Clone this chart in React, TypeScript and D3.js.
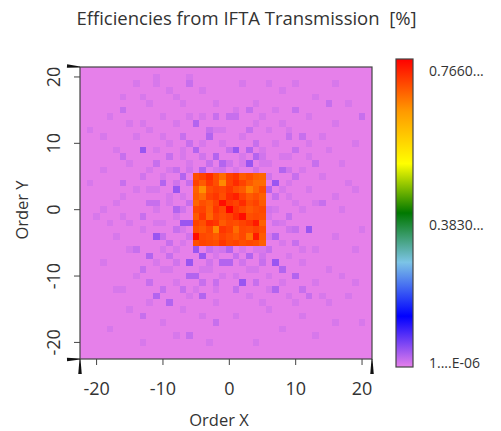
import React from 'react';
import * as d3 from 'd3';

// Diffraction orders along each axis (cell centres)
const ordersX = [-22, -21, -20, -19, -18, -17, -16, -15, -14, -13, -12, -11, -10, -9, -8, -7, -6, -5, -4, -3, -2, -1, 0, 1, 2, 3, 4, 5, 6, 7, 8, 9, 10, 11, 12, 13, 14, 15, 16, 17, 18, 19, 20, 21];
const ordersY = [21, 20, 19, 18, 17, 16, 15, 14, 13, 12, 11, 10, 9, 8, 7, 6, 5, 4, 3, 2, 1, 0, -1, -2, -3, -4, -5, -6, -7, -8, -9, -10, -11, -12, -13, -14, -15, -16, -17, -18, -19, -20, -21, -22];

// Efficiency of orders outside the signal window [%]
const baseEfficiency = 0.000001;

// Signal window orders and their efficiencies [%] (rows: order Y 5 .. -5, cols: order X -5 .. 5)
const signalOrders = [-5, -4, -3, -2, -1, 0, 1, 2, 3, 4, 5];
const signalRowsY = [5, 4, 3, 2, 1, 0, -1, -2, -3, -4, -5];
const signalEfficiency = [
  [0.70, 0.71, 0.73, 0.70, 0.675, 0.71, 0.72, 0.69, 0.70, 0.685, 0.68],
  [0.71, 0.69, 0.72, 0.70, 0.65, 0.71, 0.73, 0.71, 0.69, 0.675, 0.675],
  [0.685, 0.645, 0.70, 0.71, 0.705, 0.72, 0.70, 0.69, 0.655, 0.68, 0.70],
  [0.69, 0.675, 0.71, 0.72, 0.70, 0.73, 0.74, 0.71, 0.69, 0.70, 0.685],
  [0.68, 0.70, 0.69, 0.71, 0.755, 0.72, 0.71, 0.73, 0.70, 0.71, 0.69],
  [0.705, 0.71, 0.685, 0.72, 0.705, 0.766, 0.72, 0.705, 0.69, 0.70, 0.705],
  [0.69, 0.72, 0.68, 0.71, 0.70, 0.71, 0.73, 0.755, 0.70, 0.705, 0.70],
  [0.71, 0.70, 0.73, 0.72, 0.69, 0.705, 0.70, 0.71, 0.72, 0.745, 0.685],
  [0.70, 0.69, 0.705, 0.65, 0.72, 0.71, 0.675, 0.705, 0.70, 0.71, 0.70],
  [0.755, 0.705, 0.70, 0.69, 0.71, 0.70, 0.69, 0.705, 0.67, 0.745, 0.69],
  [0.70, 0.71, 0.705, 0.70, 0.72, 0.705, 0.71, 0.70, 0.705, 0.70, 0.685],
];

// Stray light in the noise region: [order X, order Y, efficiency %]
const noiseCells: [number, number, number][] = [
  // upper left
  [-11, 20, 0.008], [-11, 19, 0.008], [-6, 20, 0.008], [-6, 19, 0.017], [-8, 17, 0.008], [-16, 17, 0.008], [-13, 17, 0.008],
  [-16, 15, 0.017], [-15, 13, 0.008], [-21, 12, 0.008], [-5, 13, 0.028], [-2, 14, 0.017], [-3, 12, 0.017], [-3, 11, 0.028],
  [-7, 11, 0.017], [-6, 10, 0.017], [-13, 9, 0.042], [-16, 8, 0.017], [-5, 9, 0.028], [-2, 8, 0.028], [-9, 8, 0.017],
  [-11, 7, 0.017], [-8, 6, 0.017], [-4, 6, 0.028], [-3, 7, 0.017], [-1, 7, 0.028], [-10, 4, 0.028], [-8, 3, 0.042],
  [-16, 4, 0.017], [-21, 4, 0.008], [-7, 5, 0.028], [-6, 4, 0.017], [-12, 1, 0.017], [-17, 1, 0.008], [-8, 0, 0.028],
  [-6, 1, 0.017], [-11, 1, 0.017],
  [-14, 19, 0.008], [-9, 18, 0.008], [-4, 18, 0.008], [-12, 16, 0.008], [-7, 16, 0.008], [-2, 16, 0.008], [-18, 14, 0.008],
  [-10, 14, 0.008], [-6, 14, 0.008], [-13, 13, 0.008], [-8, 13, 0.008], [-1, 12, 0.008], [-19, 11, 0.008], [-14, 11, 0.008],
  [-9, 10, 0.008], [-4, 10, 0.008], [-1, 10, 0.008], [-17, 9, 0.008], [-11, 9, 0.008], [-7, 9, 0.008], [-15, 7, 0.008],
  [-6, 7, 0.008], [-19, 6, 0.008], [-12, 6, 0.008], [-10, 5, 0.008], [-14, 3, 0.008], [-11, 3, 0.008], [-16, 2, 0.008],
  [-9, 1, 0.008], [-19, 0, 0.008], [-11, 0, 0.008], [-7, 2, 0.008], [-2, 6, 0.008],
  [-6, 6, 0.012], [-1, 6, 0.012], [-8, 4, 0.012], [-9, 6, 0.008], [-7, 8, 0.008], [-4, 8, 0.012], [-9, 2, 0.008],
  [-12, 3, 0.008], [-13, 5, 0.012], [-2, 12, 0.008], [-4, 14, 0.008], [-10, 11, 0.008], [-12, 12, 0.008], [-7, 0, 0.012],
  // upper right
  [1, 9, 0.042], [3, 7, 0.042], [4, 8, 0.028], [3, 9, 0.028], [7, 4, 0.042], [8, 6, 0.028], [10, 5, 0.017], [13, 7, 0.017],
  [11, 11, 0.017], [10, 9, 0.017], [9, 11, 0.017], [3, 12, 0.017], [3, 15, 0.017], [1, 15, 0.008], [0, 14, 0.017],
  [1, 14, 0.017], [5, 14, 0.008], [7, 15, 0.008], [10, 15, 0.017], [15, 16, 0.017], [20, 14, 0.017], [4, 10, 0.017],
  [0, 9, 0.017], [6, 3, 0.028], [7, 2, 0.017], [14, 1, 0.017], [19, 3, 0.008], [12, 8, 0.008], [16, 19, 0.008],
  [10, 19, 0.008], [6, 19, 0.008],
  [2, 19, 0.008], [8, 18, 0.008], [13, 17, 0.008], [18, 16, 0.008], [4, 16, 0.008], [12, 14, 0.008], [16, 13, 0.008],
  [6, 12, 0.008], [9, 12, 0.008], [14, 11, 0.008], [19, 10, 0.008], [2, 11, 0.008], [7, 10, 0.008], [12, 10, 0.008],
  [5, 9, 0.008], [15, 9, 0.008], [9, 8, 0.008], [17, 7, 0.008], [6, 7, 0.008], [11, 6, 0.008], [14, 5, 0.008],
  [18, 4, 0.008], [9, 4, 0.008], [12, 3, 0.008], [16, 2, 0.008], [9, 2, 0.008], [11, 0, 0.008], [17, 0, 0.008],
  [7, 0, 0.008], [13, 1, 0.008], [2, 7, 0.008],
  [1, 6, 0.008], [4, 6, 0.012], [5, 7, 0.008], [6, 5, 0.012], [6, 0, 0.012], [0, 7, 0.012], [2, 8, 0.008],
  [5, 8, 0.012], [8, 8, 0.008], [9, 6, 0.012], [8, 3, 0.008], [10, 1, 0.008], [4, 13, 0.008], [8, 13, 0.008],
  // lower left
  [-7, -2, 0.042], [-6, -2, 0.042], [-11, -4, 0.042], [-12, -7, 0.028], [-9, -7, 0.017], [-5, -6, 0.042], [-4, -7, 0.042],
  [-6, -8, 0.042], [-1, -8, 0.028], [-6, -10, 0.028], [-5, -10, 0.028], [-13, -1, 0.017], [-14, -6, 0.017],
  [-13, -9, 0.017], [-12, -11, 0.017], [-11, -13, 0.028], [-9, -14, 0.028], [-10, -12, 0.017], [-7, -12, 0.017],
  [-4, -13, 0.028], [-4, -11, 0.017], [-2, -11, 0.017], [-2, -17, 0.017], [-6, -19, 0.017], [-20, -1, 0.008],
  [-16, -1, 0.008], [-18, -2, 0.008], [-16, -12, 0.008], [-13, -16, 0.017], [-10, -4, 0.017], [-8, -3, 0.017],
  [-9, -5, 0.017],
  [-15, -2, 0.008], [-10, -2, 0.008], [-17, -4, 0.008], [-13, -3, 0.008], [-7, -5, 0.008], [-15, -6, 0.008],
  [-8, -6, 0.008], [-11, -8, 0.008], [-19, -8, 0.008], [-3, -9, 0.008], [-9, -9, 0.008], [-14, -10, 0.008],
  [-8, -11, 0.008], [-1, -10, 0.008], [-17, -12, 0.008], [-6, -13, 0.008], [-12, -14, 0.008], [-2, -14, 0.008],
  [-15, -15, 0.008], [-7, -15, 0.008], [-10, -17, 0.008], [-4, -16, 0.008], [-18, -18, 0.008], [-8, -19, 0.008],
  [-13, -20, 0.008], [-3, -20, 0.008], [-3, -6, 0.017], [-2, -7, 0.008],
  [-6, -4, 0.012], [-7, -3, 0.008], [-2, -6, 0.008], [-1, -6, 0.012], [-8, -1, 0.008], [-10, -6, 0.008],
  [-11, -2, 0.008], [-3, -8, 0.012], [-4, -9, 0.008], [-2, -12, 0.008], [-5, -12, 0.008], [-8, -8, 0.012],
  [-10, -9, 0.008],
  // lower right
  [0, -6, 0.028], [3, -7, 0.028], [7, -8, 0.042], [7, -4, 0.028], [12, -3, 0.042], [2, -11, 0.042], [7, -12, 0.028],
  [10, -10, 0.028], [8, -9, 0.028], [11, -12, 0.017], [10, -5, 0.017], [0, -8, 0.028], [1, -7, 0.017], [5, -8, 0.017],
  [4, -11, 0.017], [12, -13, 0.017], [6, -1, 0.008], [9, -1, 0.017], [10, -3, 0.017], [14, -13, 0.008],
  [16, -17, 0.008], [20, -17, 0.008], [19, -11, 0.008], [20, -3, 0.008], [5, -14, 0.008], [1, -12, 0.017],
  [2, -6, 0.008], [5, -6, 0.008], [9, -7, 0.008], [13, -6, 0.008], [16, -4, 0.008], [3, -9, 0.008], [11, -8, 0.008],
  [15, -9, 0.008], [6, -10, 0.008], [13, -11, 0.008], [17, -10, 0.008], [3, -13, 0.008], [9, -13, 0.008],
  [15, -14, 0.008], [6, -15, 0.008], [11, -16, 0.008], [1, -16, 0.008], [18, -13, 0.008], [8, -18, 0.008],
  [13, -19, 0.008], [4, -20, 0.008], [19, -6, 0.008], [6, -6, 0.017], [8, -2, 0.008],
  [7, -2, 0.012], [6, -4, 0.008], [5, -7, 0.012], [2, -8, 0.012], [4, -6, 0.008], [8, -5, 0.008], [9, -3, 0.012],
  [11, -6, 0.008], [4, -9, 0.008], [1, -10, 0.008], [6, -12, 0.008], [8, -11, 0.008], [10, -14, 0.008],
];

const axisTicks = [-20, -10, 0, 10, 20];
const maxEfficiency = 0.766;
const colorbarLabels: [number, string][] = [
  [0.766, '0.7660...'],
  [0.383, '0.3830...'],
  [0.000001, '1....E-06'],
];

const titleText = 'Efficiencies from IFTA Transmission\u00a0\u00a0[%]';

// Colour map: orchid -> blue -> sky -> green -> yellow -> orange -> red
const mapStops = [0, 0.165, 0.34, 0.5, 0.66, 0.83, 1];
const mapColors = ['#e680ea', '#0000ff', '#7cc4e6', '#007800', '#ffff00', '#ff9a00', '#ff0000'];

const W = 501;
const H = 431;
const FONT = "'Open Sans', 'Noto Sans', sans-serif";
const TEXT = '#333333';

export default function App() {
  const plot = { left: 80, right: 372, top: 67, bottom: 359 };
  const x = d3.scaleLinear().domain([-22.5, 21.5]).range([plot.left, plot.right]);
  const y = d3.scaleLinear().domain([-22.5, 21.5]).range([plot.bottom, plot.top]);

  const color = d3
    .scaleLinear<string>()
    .domain(mapStops.map((s) => s * maxEfficiency))
    .range(mapColors)
    .interpolate(d3.interpolateRgb)
    .clamp(true);

  // Build the efficiency map (strongest contribution wins where cells repeat)
  const values = new Map<string, number>();
  ordersY.forEach((oy) => ordersX.forEach((ox) => values.set(`${ox},${oy}`, baseEfficiency)));
  noiseCells.forEach(([ox, oy, v]) => {
    const k = `${ox},${oy}`;
    values.set(k, Math.max(values.get(k) ?? 0, v));
  });
  signalRowsY.forEach((oy, r) =>
    signalOrders.forEach((ox, c) => values.set(`${ox},${oy}`, signalEfficiency[r][c]))
  );

  const cells: { ox: number; oy: number; v: number }[] = [];
  ordersY.forEach((oy) => ordersX.forEach((ox) => cells.push({ ox, oy, v: values.get(`${ox},${oy}`)! })));

  // Colour bar
  const bar = { left: 396, right: 413, top: 59, bottom: 367 };
  const yBar = d3.scaleLinear().domain([0, maxEfficiency]).range([bar.bottom, bar.top]);

  // Tapered axis end markers
  const wedge = (x1: number, y1: number, x2: number, y2: number, thick: number, thin: number) => {
    const dx = x2 - x1;
    const dy = y2 - y1;
    const len = Math.hypot(dx, dy);
    const nx = -dy / len;
    const ny = dx / len;
    const pts = [
      [x1 + (nx * thick) / 2, y1 + (ny * thick) / 2],
      [x2 + (nx * thin) / 2, y2 + (ny * thin) / 2],
      [x2 - (nx * thin) / 2, y2 - (ny * thin) / 2],
      [x1 - (nx * thick) / 2, y1 - (ny * thick) / 2],
    ];
    return pts.map((p) => p.join(',')).join(' ');
  };

  return (
    <svg
      width={W}
      height={H}
      viewBox={`0 0 ${W} ${H}`}
      style={{ position: 'absolute', left: 0, top: 0, background: '#ffffff', fontFamily: FONT }}
    >
      <defs>
        <linearGradient id="effMap" x1="0" y1="1" x2="0" y2="0">
          {mapStops.map((s, i) => (
            <stop key={i} offset={s} stopColor={mapColors[i]} />
          ))}
        </linearGradient>
      </defs>

      <text x={246.5} y={25} textAnchor="middle" fontSize={18.5} fill={TEXT}>
        {titleText}
      </text>

      <g shapeRendering="crispEdges">
        {cells.map((d) => (
          <rect
            key={`${d.ox},${d.oy}`}
            x={x(d.ox - 0.5)}
            y={y(d.oy + 0.5)}
            width={x(d.ox + 0.5) - x(d.ox - 0.5) + 0.3}
            height={y(d.oy - 0.5) - y(d.oy + 0.5) + 0.3}
            fill={color(d.v)}
          />
        ))}
      </g>

      <rect
        x={plot.left}
        y={plot.top}
        width={plot.right - plot.left}
        height={plot.bottom - plot.top}
        fill="none"
        stroke="#444"
        strokeWidth={1.2}
      />

      {/* X axis */}
      {axisTicks.map((t) => (
        <g key={`xt${t}`}>
          <line x1={x(t)} x2={x(t)} y1={plot.bottom} y2={plot.bottom + 6} stroke="#444" />
          <text x={x(t)} y={plot.bottom + 36} textAnchor="middle" fontSize={18} fill={TEXT}>
            {t}
          </text>
        </g>
      ))}
      <text x={219} y={426} textAnchor="middle" fontSize={16.5} fill={TEXT}>
        Order X
      </text>

      {/* Y axis */}
      {axisTicks.map((t) => (
        <g key={`yt${t}`}>
          <line x1={plot.left - 6} x2={plot.left} y1={y(t)} y2={y(t)} stroke="#444" />
          <text
            transform={`translate(${plot.left - 20},${y(t)}) rotate(-90)`}
            textAnchor="middle"
            fontSize={18}
            fill={TEXT}
          >
            {t}
          </text>
        </g>
      ))}
      <text transform={`translate(28,210) rotate(-90)`} textAnchor="middle" fontSize={16.5} fill={TEXT}>
        Order Y
      </text>

      {/* Axis end markers */}
      <g fill="#111">
        <polygon points={wedge(67, plot.top - 1, plot.left, plot.top, 3.5, 1)} />
        <polygon points={wedge(67, plot.bottom + 0.5, plot.left, plot.bottom, 3.5, 1)} />
        <polygon points={wedge(plot.left, plot.bottom + 15, plot.left, plot.bottom, 3.5, 1)} />
        <polygon points={wedge(plot.right, plot.bottom + 15, plot.right, plot.bottom, 3.5, 1)} />
      </g>

      {/* Colour bar */}
      <rect
        x={bar.left}
        y={bar.top}
        width={bar.right - bar.left}
        height={bar.bottom - bar.top}
        fill="url(#effMap)"
        stroke="#444"
        strokeWidth={1.2}
      />
      {colorbarLabels.map(([v, label]) => (
        <text key={label} x={429} y={Math.min(yBar(v) + 17, bar.bottom + 1)} fontSize={14} fill={TEXT}>
          {label}
        </text>
      ))}
    </svg>
  );
}
